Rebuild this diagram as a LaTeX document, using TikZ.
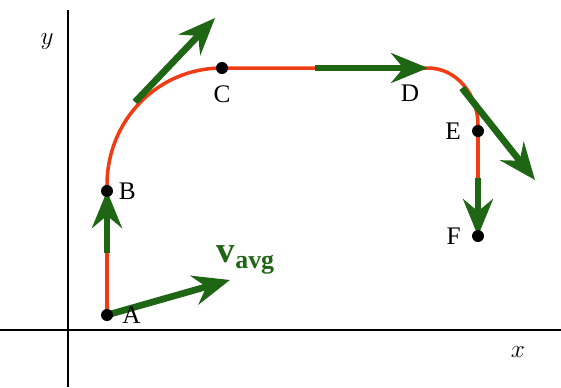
\documentclass[tikz,border=0pt]{standalone}
\usepackage{fontspec}
\setmainfont{Liberation Serif}
\usetikzlibrary{positioning,arrows.meta}
\definecolor{ink}{HTML}{000000}
\definecolor{trailred}{HTML}{F03C14}
\definecolor{vecgreen}{HTML}{1E6614}

\begin{document}
\begin{tikzpicture}[x=0.02cm,y=-0.02cm,
    dot/.style={circle,fill=ink,inner sep=0pt,minimum size=0.24cm},
    lab/.style={font=\Large,color=ink,inner sep=0pt},
    trail/.style={draw=trailred,line width=2pt},
    vec/.style={draw=vecgreen,line width=3.8pt,-{Stealth[length=21pt,width=17pt,inset=7pt]}}]
  \useasboundingbox (0,0) rectangle (561,387);
  \draw[ink,line width=1.2pt] (68,10) -- (68,387);
  \draw[ink,line width=1.2pt] (0,330) -- (561,330);
  \node[font=\Large] (ylab) at (47,42) {$y$};
  \node[font=\Large] (xlab) at (518,352) {$x$};
  \coordinate (A) at (107,315);
  \coordinate (B) at (107,191);
  \coordinate (C) at (222,68);
  \coordinate (D) at (428,68);
  \coordinate (E) at (478,131);
  \coordinate (F) at (478,236);
  \coordinate (bc0) at (107,185);
  \coordinate (de1) at (478,125);
  \draw[trail] (A) -- (bc0) .. controls (107,120) and (158,68) .. (C) -- (D)
    .. controls (456,68) and (478,94) .. (de1) -- (F);
  \coordinate (ab) at (107,253);
  \coordinate (bc) at (135,102);
  \coordinate (bctip) at (215,18);
  \coordinate (cd) at (315,68);
  \coordinate (de) at (462,88);
  \coordinate (detip) at (535,180);
  \coordinate (ef) at (478,178);
  \coordinate (vtip) at (230,280);
  \draw[vec] (ab) -- (B);
  \draw[vec] (bc) -- (bctip);
  \draw[vec] (cd) -- (D);
  \draw[vec] (de) -- (detip);
  \draw[vec] (ef) -- (F);
  \draw[vec] (A) -- (vtip);
  \foreach \p in {A,B,C,E,F}{
    \node[dot] (\p dot) at (\p) {};}
  \node[lab,right=5pt of Adot] (Alab) {A};
  \node[lab,right=3pt of Bdot] (Blab) {B};
  \node[lab,below=6pt of Cdot] (Clab) {C};
  \node[lab] (Dlab) at (410,93) {D};
  \node[lab,left=6pt of Edot] (Elab) {E};
  \node[lab,left=6pt of Fdot] (Flab) {F};
  \node[color=vecgreen,inner sep=0pt] (vavg) at (246,260) {\fontsize{21}{22}\selectfont\textbf{v}\textsubscript{\textbf{avg}}};
\end{tikzpicture}
\end{document}
